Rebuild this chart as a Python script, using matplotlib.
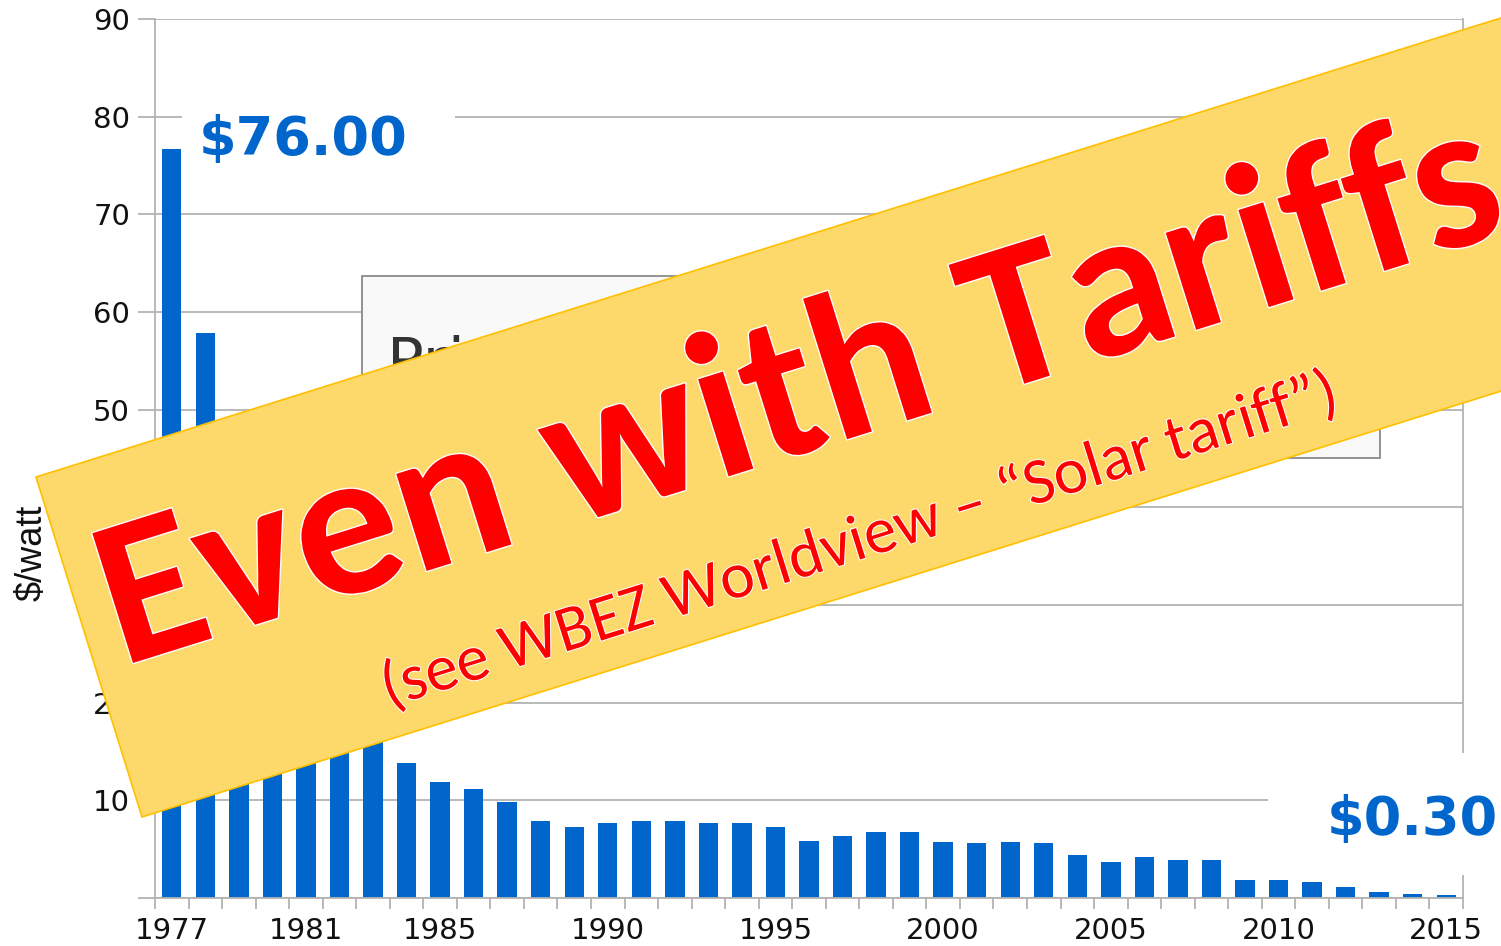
import matplotlib
matplotlib.use('Agg')
import matplotlib.pyplot as plt
from matplotlib.patches import Polygon, Rectangle
from matplotlib.font_manager import fontManager, FontProperties
from matplotlib.textpath import TextPath
import matplotlib.patheffects as pe
import numpy as np

W, H = 1501, 946

# ---- data ----
years = list(range(1977, 2016))
price = [76.67, 57.8, 41.3, 31.8, 26.5, 21.3, 17.2, 13.8, 11.9, 11.2,
         9.8, 7.9, 7.25, 7.7, 7.9, 7.9, 7.7, 7.7, 7.25, 5.8,
         6.3, 6.8, 6.8, 5.75, 5.6, 5.75, 5.6, 4.4, 3.7, 4.2,
         3.9, 3.9, 1.84, 1.84, 1.6, 1.1, 0.65, 0.4, 0.3]
label_years = [1977, 1981, 1985, 1990, 1995, 2000, 2005, 2010, 2015]
y_ticks = [0, 10, 20, 30, 40, 50, 60, 70, 80, 90]
y_tick_labels = ['', '10', '20', '30', '40', '50', '60', '70', '80', '90']
first_label = '$76.00'
last_label = '$0.30'
y_label = '$/watt'
hidden_title = 'Price history of silicon PV cells'
banner_title = 'Even with Tariffs'
banner_sub = '(see WBEZ Worldview \u2013 \u201cSolar tariff\u201d)'

BLUE = '#0066cc'
GRID = '#b3b3b3'

names = {f.name for f in fontManager.ttflist}


def pick(cands):
    for c in cands:
        if c in names:
            return c
    return 'DejaVu Sans'


banner_font = pick(['Carlito', 'Lato', 'Noto Sans', 'Open Sans', 'Roboto'])


def fx(x):
    return x / W


def fy(y):
    return 1 - y / H


fig = plt.figure(figsize=(W / 100, H / 100), dpi=100)
ax = fig.add_axes([fx(155), fy(898), (1463 - 155) / W, (898 - 19) / H])

xpos = np.arange(len(years))
ax.bar(xpos, price, width=0.58, color=BLUE, zorder=2)
ax.set_xlim(-0.5, len(years) - 0.5)
ax.set_ylim(0, 90)

ax.set_axisbelow(True)
ax.set_yticks(y_ticks)
ax.set_yticklabels(y_tick_labels)
ax.yaxis.grid(True, color=GRID, lw=1.3)
ax.tick_params(axis='y', length=12, width=1.3, color=GRID, labelsize=21,
               pad=6, labelcolor='#111111')

ax.set_xticks(np.arange(-0.5, len(years), 1.0))
ax.set_xticklabels([])
ax.tick_params(axis='x', which='major', length=8, width=1.3, color=GRID)
ax.set_xticks([years.index(y) for y in label_years], minor=True)
ax.set_xticklabels([str(y) for y in label_years], minor=True)
ax.tick_params(axis='x', which='minor', length=0, labelsize=21, pad=14,
               labelcolor='#111111')

for s in ['left', 'right', 'bottom']:
    ax.spines[s].set_color(GRID)
    ax.spines[s].set_linewidth(1.3)
ax.spines['top'].set_visible(False)

# hidden title box behind banner
tbox = Rectangle((fx(362), fy(458)), (1380 - 362) / W, (458 - 276) / H,
                 transform=fig.transFigure, fc='#f9f9f9', ec='#8a8a8a',
                 lw=1.3, zorder=1)
fig.add_artist(tbox)
tt = fig.text(fx(387), fy(381), hidden_title, fontsize=44, color='#333333',
              zorder=1.5)
tt.set_clip_path(tbox)

# value labels with white backgrounds
fig.add_artist(Rectangle((fx(182), fy(175)), (455 - 182) / W, 80 / H,
                         transform=fig.transFigure, fc='white', ec='none',
                         zorder=1))
fig.text(fx(199), fy(155), first_label, fontsize=39, fontweight='bold',
         color=BLUE, zorder=2)
fig.add_artist(Rectangle((fx(1268), fy(875)), (1501 - 1268) / W,
                         (875 - 753) / H, transform=fig.transFigure,
                         fc='white', ec='none', zorder=1))
fig.text(fx(1327), fy(835), last_label, fontsize=39, fontweight='bold',
         color=BLUE, zorder=2)

if 'Liberation Sans Narrow' in names:
    yl_font, yl_size = 'Liberation Sans Narrow', 30
else:
    yl_font, yl_size = 'Liberation Sans', 26
fig.text(fx(32), fy(553), y_label, rotation=90, ha='center', va='center',
         family=[yl_font, 'DejaVu Sans'], fontsize=yl_size,
         color='#111111', zorder=2)

# banner
ang = 17.4
d = np.array([np.cos(np.radians(ang)), -np.sin(np.radians(ang))])
A = np.array([36.0, 477.0])
B = np.array([142.0, 817.0])
C = B + 1700 * d
D = A + 1700 * d
poly = Polygon([[fx(p[0]), fy(p[1])] for p in (A, B, C, D)], closed=True,
               transform=fig.transFigure, fc='#fdd86a', ec='#ffc000',
               lw=1.2, zorder=5)
fig.add_artist(poly)


def fitted_text(text, weight, ink_left, ink_len, lw):
    fp = FontProperties(family=[banner_font, 'DejaVu Sans'], weight=weight)
    ext = TextPath((0, 0), text, size=100, prop=fp).get_extents()
    em_px = 100 * ink_len / ext.width
    lsb = ext.x0 * em_px / 100
    anchor = np.array(ink_left) - lsb * d
    fig.text(fx(anchor[0]), fy(anchor[1]), text, rotation=ang,
             rotation_mode='anchor', ha='left', va='baseline',
             fontsize=em_px * 72 / 100, fontweight=weight,
             family=[banner_font, 'DejaVu Sans'], color='#ff0000',
             path_effects=[pe.withStroke(linewidth=lw, foreground='white')],
             zorder=6)


fitted_text(banner_title, 'bold', (133, 663), 1440, 2)
fitted_text(banner_sub, 'normal', (392.6, 706), 990, 1.5)

fig.savefig('out.png', dpi=100)
